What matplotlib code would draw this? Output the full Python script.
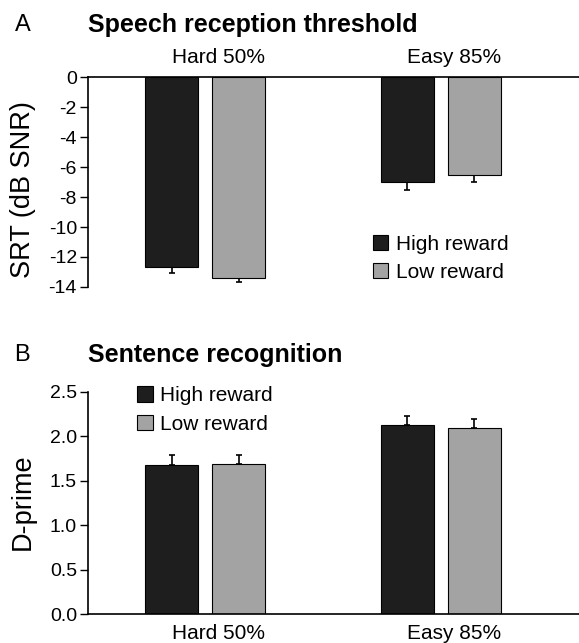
import numpy as np
import matplotlib
matplotlib.use("Agg")
import matplotlib.pyplot as plt
from matplotlib.patches import Patch

plt.rcParams['font.family'] = ['Liberation Sans', 'DejaVu Sans']
plt.rcParams['axes.unicode_minus'] = False

# %% data
groups = ["Hard 50%", "Easy 85%"]
series = ["High reward", "Low reward"]
colors = ["#1e1e1e", "#a3a3a3"]

srt_high = [-12.7, -7.0]
srt_low = [-13.4, -6.5]
srt_high_err = [0.4, 0.5]
srt_low_err = [0.3, 0.5]

dp_high = [1.68, 2.13]
dp_low = [1.69, 2.09]
dp_high_err = [0.11, 0.10]
dp_low_err = [0.10, 0.10]

# %% layout
fig = plt.figure(figsize=(5.79, 6.43), dpi=100)
axA = fig.add_axes([0.152, 0.5537, 0.848, 0.3263])
axB = fig.add_axes([0.152, 0.0451, 0.848, 0.3457])

x = np.arange(len(groups))
off = 0.142
w = 0.225


def draw(ax, hi, lo, hi_err, lo_err, up):
    for vals, errs, sgn, c in [(hi, hi_err, -1, colors[0]), (lo, lo_err, 1, colors[1])]:
        xs = x + sgn * off
        ax.bar(xs, vals, width=w, color=c, edgecolor="black", linewidth=0.8, zorder=2)
        e = np.array(errs)
        yerr = [np.zeros_like(e), e] if up else [e, np.zeros_like(e)]
        ax.errorbar(xs, vals, yerr=yerr, fmt="none", ecolor="black",
                    elinewidth=1.2, capsize=2.5, capthick=1.2, zorder=1)
    ax.set_xlim(-0.496, 1.585)
    ax.set_xticks([])
    ax.spines["right"].set_visible(False)
    ax.tick_params(axis="y", direction="out", length=6, width=1, labelsize=14, pad=2)


handles = [Patch(facecolor=c, edgecolor="black", linewidth=0.8) for c in colors]
leg_kw = dict(frameon=False, fontsize=15, handlelength=0.75, handleheight=0.75,
              handletextpad=0.35, labelspacing=0.45, borderpad=0, borderaxespad=0)

# panel A
draw(axA, srt_high, srt_low, srt_high_err, srt_low_err, up=False)
axA.set_ylim(-14, 0)
axA.set_yticks(np.arange(0, -15, -2))
axA.spines["bottom"].set_visible(False)
axA.spines["top"].set_linewidth(1.2)
axA.spines["left"].set_linewidth(1.2)
for xi, g in zip(x, groups):
    axA.text(xi + 0.055, 1.05, g, transform=axA.get_xaxis_transform(),
             ha="center", va="bottom", fontsize=15)
axA.legend(handles, series, loc="upper left", bbox_to_anchor=(0.58, 0.25), **leg_kw)

# panel B
draw(axB, dp_high, dp_low, dp_high_err, dp_low_err, up=True)
axB.set_ylim(0, 2.5)
axB.set_yticks(np.arange(0, 2.6, 0.5))
axB.set_yticklabels([f"{v:.1f}" for v in np.arange(0, 2.6, 0.5)])
axB.spines["top"].set_visible(False)
axB.spines["bottom"].set_linewidth(1.2)
axB.spines["left"].set_linewidth(1.2)
for xi, g in zip(x, groups):
    axB.text(xi + 0.055, -0.045, g, transform=axB.get_xaxis_transform(),
             ha="center", va="top", fontsize=15)
axB.legend(handles, series, loc="upper left", bbox_to_anchor=(0.1, 1.025), **leg_kw)

# y labels
fig.text(23 / 579, 1 - 190 / 643, "SRT (dB SNR)", fontsize=19.5, rotation=90,
         ha="center", va="center")
fig.text(23 / 579, 1 - 502 / 643, "D-prime", fontsize=19.5, rotation=90,
         ha="center", va="center")

# panel titles
fig.text(0.025, 1 - 25 / 643, "A", fontsize=17, va="center", ha="left")
fig.text(0.152, 1 - 25 / 643, "Speech reception threshold", fontsize=18,
         fontweight="bold", va="center", ha="left")
fig.text(0.025, 1 - 355 / 643, "B", fontsize=17, va="center", ha="left")
fig.text(0.152, 1 - 355 / 643, "Sentence recognition", fontsize=18,
         fontweight="bold", va="center", ha="left")

fig.savefig("out.png", dpi=100)
